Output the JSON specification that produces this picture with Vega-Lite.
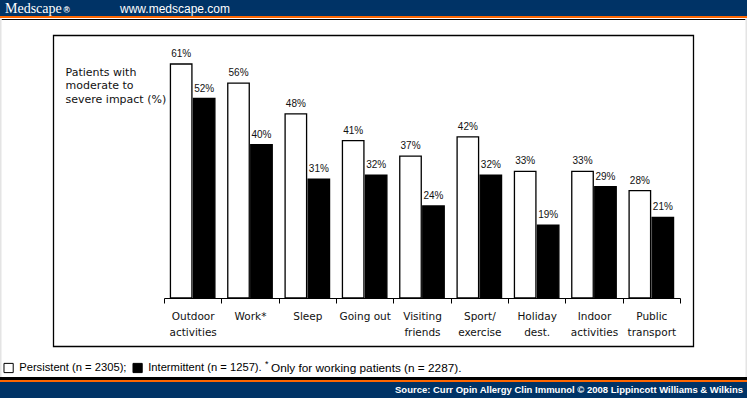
{
  "$schema": "https://vega.github.io/schema/vega-lite/v6.json",
  "width": 747,
  "height": 398,
  "autosize": {"type": "none"},
  "padding": 0,
  "background": "white",
  "config": {"view": {"stroke": null}},
  "layer": [
    {"data": {"values": [{}]}, "mark": {"type": "rect", "color": "#003366"},
     "encoding": {"x": {"value": 0}, "x2": {"value": 747}, "y": {"value": 0}, "y2": {"value": 16}}},
    {"data": {"values": [{}]}, "mark": {"type": "rect", "color": "#ff6600"},
     "encoding": {"x": {"value": 0}, "x2": {"value": 747}, "y": {"value": 16}, "y2": {"value": 18}}},
    {"data": {"values": [{}]}, "mark": {"type": "rule", "color": "black", "strokeWidth": 1},
     "encoding": {"x": {"value": 1.5}, "x2": {"value": 745.5}, "y": {"value": 19.5}}},
    {"data": {"values": [{}]}, "mark": {"type": "rect", "color": "#e4e4e4"},
     "encoding": {"x": {"value": 0}, "x2": {"value": 1.5}, "y": {"value": 18}, "y2": {"value": 377}}},
    {"data": {"values": [{}]}, "mark": {"type": "rect", "color": "#e4e4e4"},
     "encoding": {"x": {"value": 745.5}, "x2": {"value": 747}, "y": {"value": 18}, "y2": {"value": 377}}},
    {"data": {"values": [{}]}, "mark": {"type": "rect", "fillOpacity": 0, "stroke": "black", "strokeWidth": 1.3},
     "encoding": {"x": {"value": 53.5}, "x2": {"value": 693.5}, "y": {"value": 35.5}, "y2": {"value": 346.5}}},
    {"data": {"values": [{}]}, "mark": {"type": "rect", "color": "black"},
     "encoding": {"x": {"value": 0}, "x2": {"value": 747}, "y": {"value": 377}, "y2": {"value": 380}}},
    {"data": {"values": [{}]}, "mark": {"type": "rect", "color": "#ff6600"},
     "encoding": {"x": {"value": 0}, "x2": {"value": 747}, "y": {"value": 380}, "y2": {"value": 382}}},
    {"data": {"values": [{}]}, "mark": {"type": "rect", "color": "#003366"},
     "encoding": {"x": {"value": 0}, "x2": {"value": 747}, "y": {"value": 382}, "y2": {"value": 398}}},
    {"data": {"values": [{}]}, "mark": {"type": "text", "text": "Medscape", "font": "Liberation Serif", "fontSize": 14, "color": "white", "align": "left", "baseline": "middle"},
     "encoding": {"x": {"value": 5}, "y": {"value": 8.5}}},
    {"data": {"values": [{}]}, "mark": {"type": "text", "text": "®", "font": "Liberation Sans", "fontSize": 8.5, "fontWeight": "bold", "color": "white", "align": "left", "baseline": "middle"},
     "encoding": {"x": {"value": 63.5}, "y": {"value": 9.5}}},
    {"data": {"values": [{}]}, "mark": {"type": "text", "text": "www.medscape.com", "font": "Liberation Sans", "fontSize": 12, "color": "white", "align": "left", "baseline": "middle"},
     "encoding": {"x": {"value": 120}, "y": {"value": 8.5}}},
    {"data": {"values": [{}]}, "mark": {"type": "text", "text": "*", "font": "Liberation Sans", "fontSize": 9, "color": "black", "align": "left", "baseline": "middle"},
     "encoding": {"x": {"value": 265}, "y": {"value": 364}}},
    {"data": {"values": [{}]}, "mark": {"type": "text", "text": "Only for working patients (n = 2287).", "font": "Liberation Sans", "fontSize": 11.8, "color": "black", "align": "left", "baseline": "middle"},
     "encoding": {"x": {"value": 271}, "y": {"value": 368}}},
    {"data": {"values": [{}]}, "mark": {"type": "text", "text": "Source: Curr Opin Allergy Clin Immunol © 2008 Lippincott Williams & Wilkins", "font": "Liberation Sans", "fontSize": 9.5, "fontWeight": "bold", "color": "white", "align": "right", "baseline": "middle"},
     "encoding": {"x": {"value": 743}, "y": {"value": 390}}},
    {
      "data": {"values": [
        {"category": "Outdoor|activities", "series": "Persistent", "value": 61},
        {"category": "Outdoor|activities", "series": "Intermittent", "value": 52},
        {"category": "Work*", "series": "Persistent", "value": 56},
        {"category": "Work*", "series": "Intermittent", "value": 40},
        {"category": "Sleep", "series": "Persistent", "value": 48},
        {"category": "Sleep", "series": "Intermittent", "value": 31},
        {"category": "Going out", "series": "Persistent", "value": 41},
        {"category": "Going out", "series": "Intermittent", "value": 32},
        {"category": "Visiting|friends", "series": "Persistent", "value": 37},
        {"category": "Visiting|friends", "series": "Intermittent", "value": 24},
        {"category": "Sport/|exercise", "series": "Persistent", "value": 42},
        {"category": "Sport/|exercise", "series": "Intermittent", "value": 32},
        {"category": "Holiday|dest.", "series": "Persistent", "value": 33},
        {"category": "Holiday|dest.", "series": "Intermittent", "value": 19},
        {"category": "Indoor|activities", "series": "Persistent", "value": 33},
        {"category": "Indoor|activities", "series": "Intermittent", "value": 29},
        {"category": "Public|transport", "series": "Persistent", "value": 28},
        {"category": "Public|transport", "series": "Intermittent", "value": 21}
      ]},
      "encoding": {
        "x": {"field": "category", "type": "nominal", "sort": null,
              "scale": {"range": [164, 680], "paddingInner": 0, "paddingOuter": 0},
              "axis": {"orient": "bottom", "offset": -100, "title": null, "labelAngle": 0,
                       "labelExpr": "split(datum.label, '|')", "labelFont": "DejaVu Sans", "labelFontSize": 10.5,
                       "labelColor": "#111", "labelLineHeight": 16, "labelPadding": 8, "labelLimit": 0,
                       "tickBand": "extent", "tickSize": 5, "tickColor": "black", "tickWidth": 1,
                       "domainColor": "black", "domainWidth": 1, "grid": false}},
        "xOffset": {"field": "series", "type": "nominal", "sort": ["Persistent", "Intermittent"],
                    "scale": {"paddingInner": 0.065, "paddingOuter": 0.28}},
        "y": {"field": "value", "type": "quantitative",
              "scale": {"domain": [0, 61], "range": [298, 64]},
              "axis": {"orient": "left", "domain": false, "ticks": false, "labels": false, "grid": false,
                       "title": ["Patients with", "moderate to", "severe impact (%)"],
                       "titleAngle": 0, "titleAlign": "left", "titleBaseline": "top",
                       "titleX": 65, "titleY": 66, "titleFont": "DejaVu Sans", "titleFontSize": 11,
                       "titleFontWeight": "normal", "titleLineHeight": 13.5, "titleColor": "#111"}}
      },
      "layer": [
        {"mark": {"type": "bar", "stroke": "black", "strokeWidth": 1.3},
         "encoding": {
           "fill": {"field": "series", "type": "nominal",
                    "scale": {"domain": ["Persistent", "Intermittent"], "range": ["white", "black"]},
                    "legend": {"orient": "none", "legendX": 3, "legendY": 362, "direction": "horizontal",
                               "title": null, "symbolType": "square", "symbolSize": 85,
                               "symbolStrokeColor": "black", "symbolStrokeWidth": 1,
                               "labelFont": "Liberation Sans", "labelFontSize": 11.2, "labelColor": "black",
                               "labelOffset": 5, "columnPadding": 3, "padding": 0, "labelLimit": 0,
                               "labelExpr": "datum.label == 'Persistent' ? 'Persistent (n = 2305);' : 'Intermittent (n = 1257).'"}}
         }},
        {"mark": {"type": "text", "text": {"expr": "datum.value + '%'"}, "dy": -7, "baseline": "alphabetic",
                  "font": "Liberation Sans", "fontSize": 10, "color": "#111"}}
      ]
    }
  ]
}
